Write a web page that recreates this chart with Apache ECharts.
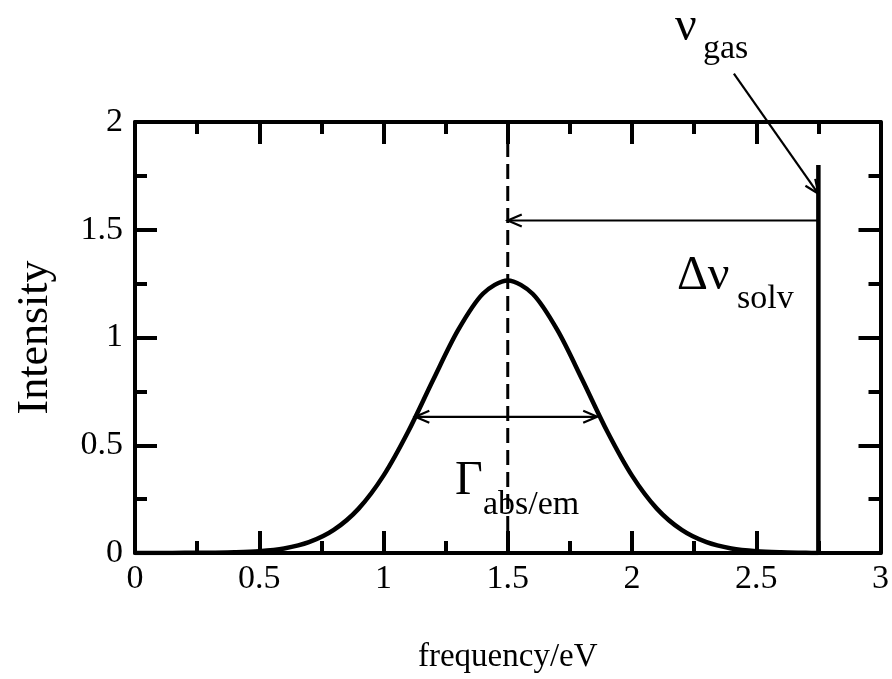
<!DOCTYPE html>
<html>
<head>
<meta charset="utf-8">
<script src="https://cdn.jsdelivr.net/npm/echarts@6/dist/echarts.min.js"></script>
<style>
  html, body { margin: 0; padding: 0; background: #fff; }
  #chart { width: 892px; height: 679px; }
</style>
</head>
<body>
<div id="chart"></div>
<script>
// Absorption/emission band (intensity vs. frequency)
const frequency = [0, 0.1, 0.2, 0.3, 0.4, 0.5, 0.6, 0.7, 0.8, 0.9, 1.0, 1.1, 1.2, 1.3, 1.4, 1.5,
                   1.6, 1.7, 1.8, 1.9, 2.0, 2.1, 2.2, 2.3, 2.4, 2.5, 2.6, 2.7, 2.75];
const intensity = [0, 0, 0.001, 0.001, 0.003, 0.008, 0.021, 0.050, 0.107, 0.206, 0.359, 0.565, 0.804, 1.034, 1.203, 1.265,
                   1.203, 1.034, 0.804, 0.565, 0.359, 0.206, 0.107, 0.050, 0.021, 0.008, 0.003, 0.001, 0];

// Band centre (dashed) and gas-phase line (solid bar)
const bandCentre = [[1.5, 0], [1.5, 2]];
const gasLine = [[2.75, 0], [2.75, 1.8]];

// Arrows: [x1, y1, x2, y2, headAtStart, headAtEnd]
const arrows = [
  [1.128, 0.632, 1.86, 0.632, 1, 1],   // band width
  [2.75, 1.543, 1.5, 1.543, 0, 1],     // solvent shift
  [2.41, 2.225, 2.75, 1.667, 0, 1]     // pointer to gas-phase line
];

const xTicks = { min: 0, max: 3, interval: 0.5 };
const yTicks = { min: 0, max: 2, interval: 0.5 };

const FONT = "'Liberation Serif', 'Times New Roman', serif";

const chart = echarts.init(document.getElementById('chart'), null, { renderer: 'canvas' });

function fmt(v) { return String(v); }

const axisCommon = {
  axisLine: { show: true, onZero: false, lineStyle: { color: '#000', width: 4 } },
  axisTick: { show: true, inside: true, length: 22, lineStyle: { color: '#000', width: 4 } },
  minorTick: { show: true, splitNumber: 2, length: 12, lineStyle: { color: '#000', width: 4 } },
  splitLine: { show: false },
  minorSplitLine: { show: false }
};

function arrowItem(params, api) {
  const p1 = api.coord([api.value(0), api.value(1)]);
  const p2 = api.coord([api.value(2), api.value(3)]);
  const dx = p2[0] - p1[0], dy = p2[1] - p1[1];
  const len = Math.sqrt(dx * dx + dy * dy);
  const ux = dx / len, uy = dy / len;
  const L = 14, W = 6;
  const style = { stroke: '#000', lineWidth: 2.2, fill: null, lineCap: 'butt', lineJoin: 'miter' };
  const children = [{ type: 'line', shape: { x1: p1[0], y1: p1[1], x2: p2[0], y2: p2[1] }, style: style }];
  function head(tip, dirx, diry) {
    // dir points from the tip back along the shaft
    const bx = tip[0] + dirx * L, by = tip[1] + diry * L;
    const nx = -diry, ny = dirx;
    children.push({
      type: 'polyline',
      shape: { points: [[bx + nx * W, by + ny * W], tip, [bx - nx * W, by - ny * W]] },
      style: style
    });
  }
  if (api.value(4)) head(p1, ux, uy);
  if (api.value(5)) head(p2, -ux, -uy);
  return { type: 'group', children: children };
}

function label(text, x, y, size) {
  return { type: 'text', left: x, top: y, style: { text: text, font: size + 'px ' + FONT, fill: '#000' } };
}

const option = {
  animation: false,
  backgroundColor: '#fff',
  grid: { left: 135, right: 7, top: 122, bottom: 119, containLabel: false },
  xAxis: [
    Object.assign({
      type: 'value', position: 'bottom', min: xTicks.min, max: xTicks.max, interval: xTicks.interval,
      name: 'frequency/eV', nameLocation: 'middle', nameGap: 88,
      nameTextStyle: { fontFamily: FONT, fontSize: 33, color: '#000' },
      axisLabel: { show: true, margin: 9, fontFamily: FONT, fontSize: 34, color: '#000', formatter: fmt }
    }, axisCommon),
    Object.assign({
      type: 'value', position: 'top', min: xTicks.min, max: xTicks.max, interval: xTicks.interval,
      axisLabel: { show: false }
    }, axisCommon)
  ],
  yAxis: [
    Object.assign({
      type: 'value', position: 'left', min: yTicks.min, max: yTicks.max, interval: yTicks.interval,
      name: 'Intensity', nameLocation: 'middle', nameGap: 78,
      nameTextStyle: { fontFamily: FONT, fontSize: 44, color: '#000' },
      axisLabel: { show: true, margin: 12, fontFamily: FONT, fontSize: 34, color: '#000', formatter: fmt }
    }, axisCommon),
    Object.assign({
      type: 'value', position: 'right', min: yTicks.min, max: yTicks.max, interval: yTicks.interval,
      axisLabel: { show: false }
    }, axisCommon)
  ],
  series: [
    {
      type: 'line', name: 'band', xAxisIndex: 0, yAxisIndex: 0,
      data: frequency.map((f, i) => [f, intensity[i]]),
      smooth: 0.3, showSymbol: false, symbol: 'none',
      lineStyle: { color: '#000', width: 4.5 }, z: 3
    },
    {
      type: 'line', name: 'centre', data: bandCentre, showSymbol: false, symbol: 'none',
      lineStyle: { color: '#000', width: 3, type: [15, 7] }, z: 2
    },
    {
      type: 'line', name: 'gas', data: gasLine, showSymbol: false, symbol: 'none',
      lineStyle: { color: '#000', width: 4.5, cap: 'butt' }, z: 3
    },
    {
      type: 'custom', name: 'arrows', data: arrows, renderItem: arrowItem,
      encode: { x: [0, 2], y: [1, 3] }, clip: false, z: 4, silent: true
    }
  ],
  graphic: [
    label('ν', 675, 3, 48),
    label('gas', 703, 32, 34),
    label('Δν', 677, 252, 48),
    label('solv', 737, 282, 34),
    label('Γ', 455, 457, 48),
    label('abs/em', 483, 488, 34)
  ]
};

chart.setOption(option);
</script>
</body>
</html>
